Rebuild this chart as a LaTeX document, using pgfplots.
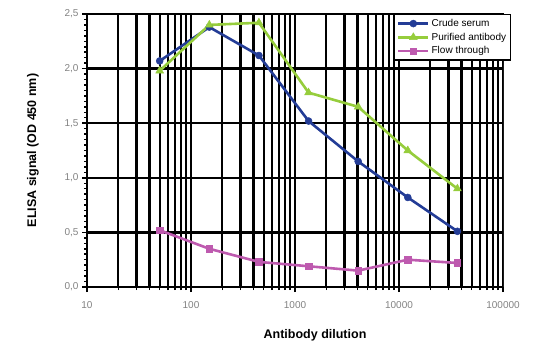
\documentclass[border=0pt]{standalone}
\usepackage{fontspec}
\setmainfont{Liberation Sans}
\usepackage{pgfplots}
\pgfplotsset{compat=1.18}
\usetikzlibrary{calc}
\definecolor{cblue}{RGB}{35,60,150}
\definecolor{cgreen}{RGB}{150,205,60}
\definecolor{cmag}{RGB}{190,90,175}
\definecolor{tgray}{RGB}{130,130,130}
\begin{document}
\begin{tikzpicture}
\begin{axis}[
  name=ax,
  scale only axis,
  width=416pt, height=273pt,
  xmode=log,
  xmin=10, xmax=100000,
  ymin=0, ymax=2.5,
  xtick={10,100,1000,10000,100000},
  xticklabels={10,100,1000,10000,100000},
  ytick={0,0.5,1,1.5,2,2.5},
  minor y tick num=9,
  yticklabel style={/pgf/number format/.cd,use comma,fixed,fixed zerofill,precision=1},
  /pgf/number format/assume math mode=true,
  tick label style={font=\fontsize{10}{11}\selectfont, text=tgray},
  xticklabel style={yshift=-6pt},
  xmajorgrids, xminorgrids, ymajorgrids,
  major grid style={black, line width=2.3pt},
  minor grid style={black, line width=2.3pt},
  axis line style={black, line width=2.3pt},
  tick align=outside,
  major tick length=5pt,
  minor tick length=3pt,
  tick style={black, line width=1.5pt},
  xtick pos=bottom, ytick pos=left,
  xlabel={\bfseries Antibody dilution},
  ylabel={\bfseries ELISA signal (OD 450 nm)},
  label style={font=\fontsize{12.5}{14}\selectfont},
  xlabel style={yshift=-14pt, xshift=20pt},
  ylabel style={yshift=19pt},
  legend style={at={(1.02,1.0)}, anchor=north east, draw=black, line width=1.4pt,
    font=\fontsize{10}{12}\selectfont, fill=white, inner sep=2.5pt, row sep=1pt,
    legend cell align=left},
  legend image code/.code={\draw[#1, line width=2.5pt] (0pt,0pt) -- (30pt,0pt); \draw[#1, mark repeat=2, mark phase=2] plot coordinates {(0pt,0pt) (15pt,0pt) (30pt,0pt)};},
]
\fill[gray!35] (axis cs:100000,0) rectangle ([xshift=5pt]axis cs:100000,2.5);
\addplot[cblue, line width=2.6pt, mark=*, mark size=3.5pt, mark options={solid, line width=0.5pt}]
  coordinates {(50,2.07) (150,2.38) (450,2.12) (1350,1.52) (4050,1.15) (12150,0.82) (36450,0.51)};
\addlegendentry{Crude serum}
\addplot[cgreen, line width=2.6pt, mark=triangle*, mark size=4.5pt, mark options={solid, line width=0.5pt}]
  coordinates {(50,1.98) (150,2.40) (450,2.42) (1350,1.78) (4050,1.65) (12150,1.25) (36450,0.90)};
\addlegendentry{Purified antibody}
\addplot[cmag, line width=2.6pt, mark=square*, mark size=3.3pt, mark options={solid, line width=0.5pt}]
  coordinates {(50,0.52) (150,0.35) (450,0.23) (1350,0.19) (4050,0.15) (12150,0.25) (36450,0.22)};
\addlegendentry{Flow through}
\end{axis}
\path ($(ax.south west)+(-87pt,-56pt)$) rectangle ($(ax.north east)+(30pt,14pt)$);
\end{tikzpicture}
\end{document}
